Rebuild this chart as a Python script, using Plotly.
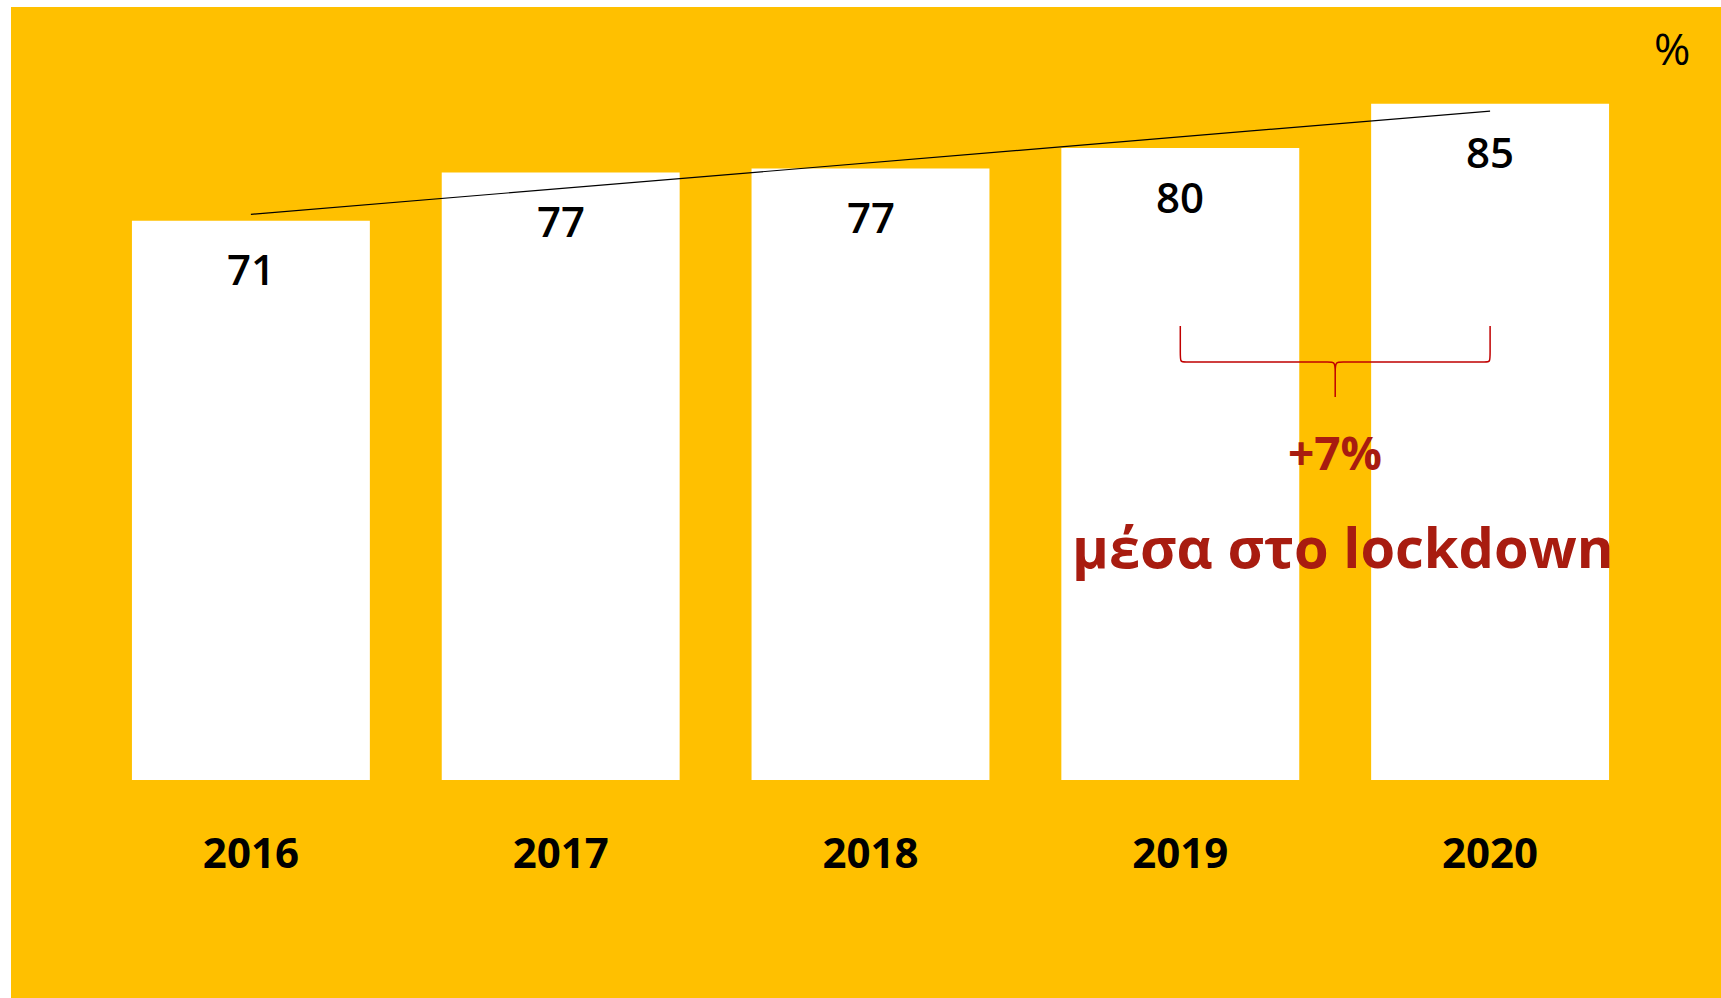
import numpy as np
import plotly.graph_objects as go

# ---------------- data ----------------
years = ["2016", "2017", "2018", "2019", "2020"]
values = [70.8, 76.9, 77.4, 80.0, 85.6]
value_labels = ["71", "77", "77", "80", "85"]
unit_label = "%"
change_label = "+7%"
change_note = "μέσα στο lockdown"

# ---------------- styling / layout constants ----------------
W, H = 1721, 998
ML, MR, MT, MB = 96, 76, 69, 218
YELLOW = "#FFC000"
RED_TEXT = "#A81C10"
BRACE_RED = "#C00000"
FONT = "Open Sans"

plot_w = W - ML - MR
plot_h = H - MT - MB
XR = [-0.5, 4.5]
YR = [0, 90]


def px_x(p):  # pixel -> paper x
    return (p - ML) / plot_w


def px_y(p):  # pixel -> paper y
    return (H - MB - p) / plot_h


x = list(range(len(years)))

fig = go.Figure()

fig.add_trace(go.Bar(
    x=x, y=values, width=0.768,
    marker=dict(color="white", line=dict(width=0)),
    hoverinfo="skip", showlegend=False,
))

# linear trend line through the data
coef = np.polyfit(x, values, 1)
tx = [x[0], x[-1]]
ty = list(np.polyval(coef, tx))
fig.add_trace(go.Scatter(
    x=tx, y=ty, mode="lines",
    line=dict(color="black", width=1.2),
    hoverinfo="skip", showlegend=False,
))

annotations = []
for xi, v, lab in zip(x, values, value_labels):
    annotations.append(dict(
        x=xi, y=v, xref="x", yref="y", text=lab, showarrow=False,
        yanchor="middle", yshift=-48,
        font=dict(family=FONT, size=42, color="black", weight=600),
    ))

annotations.append(dict(
    x=px_x(1672), y=px_y(48), xref="paper", yref="paper", text=unit_label,
    showarrow=False, xanchor="center", yanchor="middle",
    font=dict(family=FONT, size=44, color="black"),
))

mid_x = (x[3] + x[4]) / 2
annotations.append(dict(
    x=mid_x, y=px_y(452), xref="x", yref="paper", text=change_label,
    showarrow=False, xanchor="center", yanchor="middle",
    font=dict(family=FONT, size=46, color=RED_TEXT, weight="bold"),
))
annotations.append(dict(
    x=px_x(1342), y=px_y(546), xref="paper", yref="paper", text=change_note,
    showarrow=False, xanchor="center", yanchor="middle",
    font=dict(family=FONT, size=56, color=RED_TEXT, weight="bold"),
))

# curly brace between 2019 and 2020 (pixel geometry -> data coords)
def dy(p):
    return (H - MB - p) / plot_h * (YR[1] - YR[0]) + YR[0]


ux = (XR[1] - XR[0]) / plot_w  # data units per pixel (x)
xa, xb = x[3], x[4]
y_top, y_mid, y_tip = dy(326), dy(362), dy(397)
y_bend = dy(352)
y_mbend = dy(372)
r = 6 * ux
c = 8 * ux
path = (
    f"M {xa},{y_top} L {xa},{y_bend} "
    f"C {xa},{y_mid} {xa},{y_mid} {xa + r},{y_mid} "
    f"L {mid_x - c},{y_mid} "
    f"C {mid_x - 1 * ux},{y_mid} {mid_x},{y_mid} {mid_x},{y_mbend} "
    f"L {mid_x},{y_tip} L {mid_x},{y_mbend} "
    f"C {mid_x},{y_mid} {mid_x + 1 * ux},{y_mid} {mid_x + c},{y_mid} "
    f"L {xb - r},{y_mid} "
    f"C {xb},{y_mid} {xb},{y_mid} {xb},{y_bend} L {xb},{y_top}"
)

shapes = [
    dict(type="rect", xref="paper", yref="paper", layer="below",
         x0=px_x(11), x1=px_x(W + 5), y0=px_y(H + 5), y1=px_y(7),
         fillcolor=YELLOW, line=dict(width=0)),
    dict(type="path", xref="x", yref="y", path=path, layer="above",
         line=dict(color=BRACE_RED, width=1.5)),
]

fig.update_layout(
    width=W, height=H,
    margin=dict(l=ML, r=MR, t=MT, b=MB, pad=0),
    paper_bgcolor="white",
    plot_bgcolor="rgba(0,0,0,0)",
    bargap=0.232,
    showlegend=False,
    annotations=annotations,
    shapes=shapes,
    xaxis=dict(
        range=XR, tickmode="array", tickvals=x, ticktext=years,
        showgrid=False, zeroline=False, showline=False, ticks="",
        tickfont=dict(family=FONT, size=42, color="black", weight="bold"),
        ticklabelstandoff=45, fixedrange=True,
    ),
    yaxis=dict(
        range=YR, showgrid=False, zeroline=False, showline=False,
        showticklabels=False, ticks="", fixedrange=True,
    ),
)

fig.write_html(
    "out.html",
    config={"displayModeBar": False},
    post_script="document.body.style.margin='0';document.body.style.overflow='hidden';",
)
